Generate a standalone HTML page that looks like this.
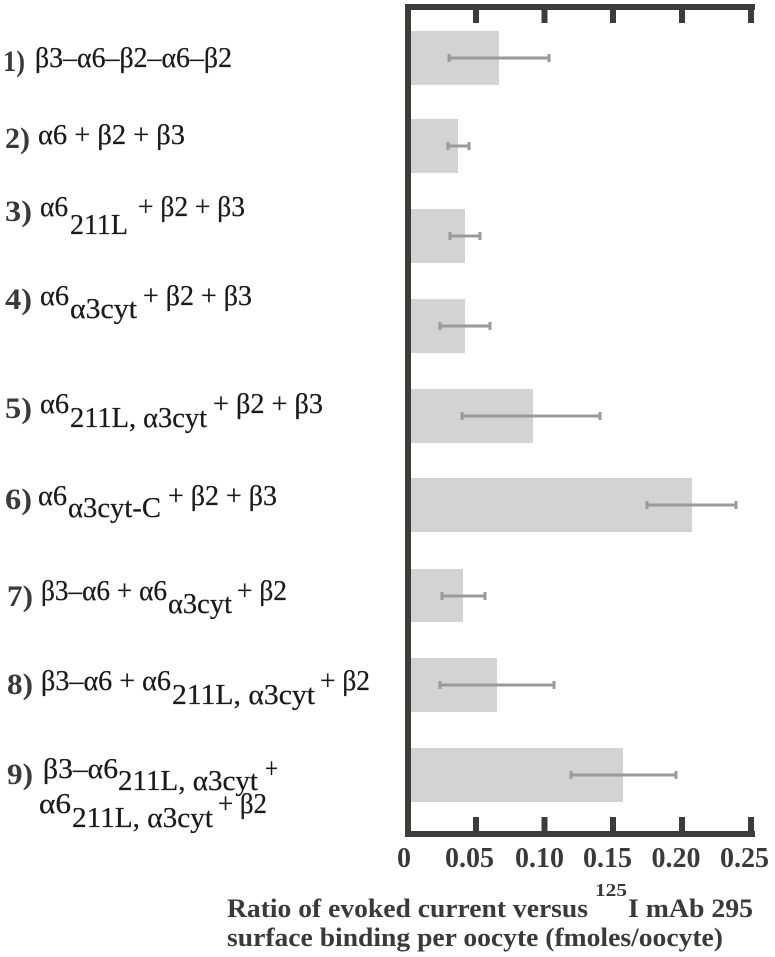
<!DOCTYPE html>
<html>
<head>
<meta charset="utf-8">
<style>
  html, body { margin: 0; padding: 0; background: #ffffff; }
  svg { display: block; }
  .num { font-family: "Liberation Serif", serif; font-weight: bold; font-size: 30px; fill: #3a3a38; }
  .f { font-family: "Liberation Serif", serif; font-size: 28px; fill: #1a1a1a; stroke: #1a1a1a; stroke-width: 0.25px; }
  .tick { font-family: "Liberation Serif", serif; font-weight: bold; font-size: 28px; fill: #3a3a38; }
  .ttl { font-family: "Liberation Serif", serif; font-weight: bold; font-size: 26px; fill: #3a3a38; }
</style>
</head>
<body>
<svg width="775" height="957" viewBox="0 0 775 957" xmlns="http://www.w3.org/2000/svg">
  <!-- bars -->
  <g fill="#d3d3d1">
    <rect x="411" y="31" width="88" height="54"/>
    <rect x="411" y="119" width="47" height="54"/>
    <rect x="411" y="209" width="54" height="54"/>
    <rect x="411" y="299" width="54" height="54"/>
    <rect x="411" y="389" width="122" height="54"/>
    <rect x="411" y="478" width="281" height="54"/>
    <rect x="411" y="569" width="52" height="53"/>
    <rect x="411" y="658" width="86" height="54"/>
    <rect x="411" y="748" width="212" height="54"/>
  </g>
  <!-- error bars -->
  <g stroke="#9a9a98" stroke-width="3" fill="none">
    <path d="M449 58H549M449 54V62M549 54V62"/>
    <path d="M448 146H469M448 142V150M469 142V150"/>
    <path d="M450 236H480M450 232V240M480 232V240"/>
    <path d="M440 326H490M440 322V330M490 322V330"/>
    <path d="M462 416H600M462 412V420M600 412V420"/>
    <path d="M647 505H736M647 501V509M736 501V509"/>
    <path d="M442 596H485M442 592V600M485 592V600"/>
    <path d="M440 685H554M440 681V689M554 681V689"/>
    <path d="M571 775H676M571 771V779M676 771V779"/>
  </g>
  <!-- axes -->
  <g fill="#3c3c38">
    <rect x="405" y="4" width="6" height="833"/>
    <rect x="405" y="4" width="350" height="6"/>
    <rect x="405" y="831" width="350" height="6"/>
    <rect x="473" y="9" width="6" height="14"/>
    <rect x="541.5" y="9" width="6" height="14"/>
    <rect x="610" y="9" width="6" height="14"/>
    <rect x="679" y="9" width="6" height="14"/>
    <rect x="748" y="9" width="6" height="14"/>
    <rect x="473" y="817" width="6" height="14"/>
    <rect x="541.5" y="817" width="6" height="14"/>
    <rect x="610" y="817" width="6" height="14"/>
    <rect x="679" y="817" width="6" height="14"/>
    <rect x="748" y="817" width="6" height="14"/>
  </g>
  <!-- tick labels -->
  <g class="tick" text-anchor="middle">
    <text x="404" y="867">0</text>
    <text x="469.5" y="867">0.05</text>
    <text x="539.5" y="867">0.10</text>
    <text x="607.5" y="867">0.15</text>
    <text x="676" y="867">0.20</text>
    <text x="744.5" y="867">0.25</text>
  </g>
  <!-- axis title -->
  <text class="ttl" x="227" y="917" textLength="361" lengthAdjust="spacingAndGlyphs">Ratio of evoked current versus</text>
  <text class="ttl" x="595" y="896" style="font-size:18px" textLength="32" lengthAdjust="spacingAndGlyphs">125</text>
  <text class="ttl" x="628" y="917" textLength="125" lengthAdjust="spacingAndGlyphs">I mAb 295</text>
  <text class="ttl" x="227" y="946" textLength="496" lengthAdjust="spacingAndGlyphs">surface binding per oocyte (fmoles/oocyte)</text>

  <!-- row labels -->
  <text class="num" x="3" y="71" textLength="22" lengthAdjust="spacingAndGlyphs">1)</text>
  <text class="f" x="35" y="67" textLength="197" lengthAdjust="spacingAndGlyphs">β3–α6–β2–α6–β2</text>

  <text class="num" x="5" y="148" textLength="25" lengthAdjust="spacingAndGlyphs">2)</text>
  <text class="f" x="38" y="144" textLength="147" lengthAdjust="spacingAndGlyphs">α6 + β2 + β3</text>

  <text class="num" x="5" y="221" textLength="27" lengthAdjust="spacingAndGlyphs">3)</text>
  <text class="f" x="40" y="216" textLength="28" lengthAdjust="spacingAndGlyphs">α6</text>
  <text class="f" x="70" y="234" textLength="58" lengthAdjust="spacingAndGlyphs">211L</text>
  <text class="f" x="138" y="216" textLength="107" lengthAdjust="spacingAndGlyphs">+ β2 + β3</text>

  <text class="num" x="5" y="309" textLength="27" lengthAdjust="spacingAndGlyphs">4)</text>
  <text class="f" x="40" y="305" textLength="29" lengthAdjust="spacingAndGlyphs">α6</text>
  <text class="f" x="70" y="318" textLength="67" lengthAdjust="spacingAndGlyphs">α3cyt</text>
  <text class="f" x="143" y="305" textLength="109" lengthAdjust="spacingAndGlyphs">+ β2 + β3</text>

  <text class="num" x="5" y="418" textLength="27" lengthAdjust="spacingAndGlyphs">5)</text>
  <text class="f" x="40" y="413" textLength="29" lengthAdjust="spacingAndGlyphs">α6</text>
  <text class="f" x="70" y="427" textLength="137" lengthAdjust="spacingAndGlyphs">211L, α3cyt</text>
  <text class="f" x="213" y="413" textLength="110" lengthAdjust="spacingAndGlyphs">+ β2 + β3</text>

  <text class="num" x="5" y="509" textLength="27" lengthAdjust="spacingAndGlyphs">6)</text>
  <text class="f" x="38" y="505" textLength="29" lengthAdjust="spacingAndGlyphs">α6</text>
  <text class="f" x="68" y="517" textLength="93" lengthAdjust="spacingAndGlyphs">α3cyt-C</text>
  <text class="f" x="168" y="505" textLength="109" lengthAdjust="spacingAndGlyphs">+ β2 + β3</text>

  <text class="num" x="7" y="606" textLength="26" lengthAdjust="spacingAndGlyphs">7)</text>
  <text class="f" x="41" y="600" textLength="126" lengthAdjust="spacingAndGlyphs">β3–α6 + α6</text>
  <text class="f" x="168" y="613" textLength="64" lengthAdjust="spacingAndGlyphs">α3cyt</text>
  <text class="f" x="237" y="600" textLength="50" lengthAdjust="spacingAndGlyphs">+ β2</text>

  <text class="num" x="7" y="694" textLength="26" lengthAdjust="spacingAndGlyphs">8)</text>
  <text class="f" x="41" y="690" textLength="130" lengthAdjust="spacingAndGlyphs">β3–α6 + α6</text>
  <text class="f" x="172" y="704" textLength="143" lengthAdjust="spacingAndGlyphs">211L, α3cyt</text>
  <text class="f" x="320" y="690" textLength="50" lengthAdjust="spacingAndGlyphs">+ β2</text>

  <text class="num" x="7" y="784" textLength="26" lengthAdjust="spacingAndGlyphs">9)</text>
  <text class="f" x="43" y="778" textLength="75" lengthAdjust="spacingAndGlyphs">β3–α6</text>
  <text class="f" x="118" y="790" textLength="140" lengthAdjust="spacingAndGlyphs">211L, α3cyt</text>
  <text class="f" x="265" y="778" textLength="13" lengthAdjust="spacingAndGlyphs">+</text>
  <text class="f" x="39" y="813" textLength="32" lengthAdjust="spacingAndGlyphs">α6</text>
  <text class="f" x="72" y="827" textLength="141" lengthAdjust="spacingAndGlyphs">211L, α3cyt</text>
  <text class="f" x="218" y="813" textLength="49" lengthAdjust="spacingAndGlyphs">+ β2</text>
</svg>
</body>
</html>
